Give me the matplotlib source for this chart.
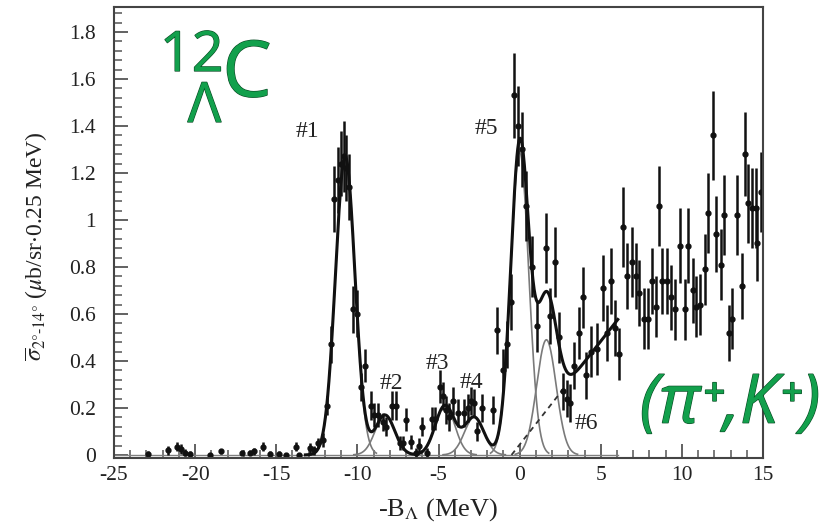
import numpy as np
import matplotlib
matplotlib.use("Agg")
import matplotlib.pyplot as plt
from matplotlib.ticker import MultipleLocator, FuncFormatter
import matplotlib.patheffects as pe

plt.rcParams['font.family'] = ['Liberation Serif', 'DejaVu Serif']
plt.rcParams['mathtext.fontset'] = 'stix'
plt.rcParams['axes.unicode_minus'] = False

# measured points: -B_Lambda (MeV), cross section, error
bx = [-22.9, -21.7, -21.1, -20.9, -20.6, -20.3, -19.1, -18.4, -17.1, -16.6, -16.4,
      -15.8, -15.4, -14.8, -14.4, -13.8, -13.6, -12.9, -12.7, -12.4, -12.1, -11.9,
      -11.65, -11.45, -11.2, -11.0, -10.85, -10.7, -10.5, -10.3, -10.05, -9.75, -9.5,
      -9.15, -8.95, -8.7, -8.45, -8.25, -7.85, -7.6, -7.4, -7.2, -7.0, -6.7, -6.4,
      -6.2, -6.0, -5.7, -5.4, -5.2, -4.9, -4.7, -4.55, -4.35, -4.1, -3.8, -3.4, -3.2,
      -3.0, -2.8, -2.6, -2.3, -1.65, -1.4, -1.05, -0.8, -0.55, -0.35, -0.1, 0.15, 0.4,
      0.75, 1.05, 1.65, 1.85, 2.15, 2.4, 2.65, 2.9, 3.1, 3.35, 3.65, 3.9, 4.1, 4.4,
      4.75, 5.15, 5.4, 5.65, 5.9, 6.15, 6.35, 6.6, 6.9, 7.15, 7.35, 7.65, 7.9, 8.15,
      8.4, 8.6, 8.8, 9.1, 9.35, 9.6, 9.9, 10.2, 10.4, 10.7, 10.9, 11.1, 11.4, 11.6,
      11.9, 12.1, 12.4, 12.6, 12.9, 13.1, 13.4, 13.7, 13.9, 14.1, 14.35, 14.55, 14.65,
      14.9]
sig = [0.005, 0.02, 0.035, 0.025, 0.01, 0.005, 0.0, 0.015, 0.01, 0.01, 0.015,
       0.035, 0.005, 0.005, 0.0, 0.035, 0.0, 0.03, 0.02, 0.05, 0.065, 0.21,
       0.47, 1.09, 1.17, 1.24, 1.27, 1.22, 1.14, 0.62, 0.60, 0.29, 0.38,
       0.21, 0.17, 0.17, 0.14, 0.12, 0.21, 0.21, 0.05, 0.05, 0.15, 0.055, 0.01,
       0.04, 0.12, 0.01, 0.155, 0.155, 0.29, 0.25, 0.19, 0.16, 0.23, 0.18, 0.18, 0.2,
       0.23, 0.22, 0.10, 0.20, 0.19, 0.53, 0.36, 0.47, 0.65, 1.53, 1.40, 1.30, 1.06,
       0.80, 0.55, 0.88, 0.59, 0.82, 0.50, 0.27, 0.24, 0.22, 0.38, 0.52, 0.67, 0.34, 0.44,
       0.45, 0.71, 0.52, 0.74, 0.54, 0.43, 0.97, 0.76, 0.82, 0.76, 0.69, 0.58, 0.58, 0.74,
       0.63, 1.06, 0.74, 0.74, 0.67, 0.62, 0.89, 0.62, 0.89, 0.70, 0.63, 0.64, 0.79, 1.03,
       1.36, 0.94, 0.81, 1.02, 0.52, 0.58, 1.02, 0.72, 1.28, 1.07, 1.05, 1.05, 0.90,
       1.12]
err = [0.01, 0.02, 0.02, 0.02, 0.015, 0.01, 0.01, 0.01, 0.01, 0.01, 0.015,
       0.02, 0.01, 0.01, 0.01, 0.02, 0.01, 0.02, 0.02, 0.02, 0.03, 0.04,
       0.08, 0.14, 0.14, 0.14, 0.15, 0.14, 0.14, 0.10, 0.10, 0.06, 0.07,
       0.06, 0.05, 0.05, 0.04, 0.04, 0.06, 0.06, 0.03, 0.03, 0.05, 0.03, 0.02,
       0.03, 0.04, 0.02, 0.05, 0.05, 0.07, 0.06, 0.06, 0.06, 0.06, 0.06, 0.06, 0.06,
       0.06, 0.06, 0.04, 0.06, 0.06, 0.10, 0.09, 0.10, 0.12, 0.18, 0.17, 0.16, 0.15,
       0.13, 0.11, 0.15, 0.12, 0.15, 0.11, 0.08, 0.08, 0.08, 0.10, 0.11, 0.13, 0.10, 0.11,
       0.11, 0.14, 0.12, 0.14, 0.12, 0.11, 0.17, 0.14, 0.15, 0.14, 0.14, 0.13, 0.13, 0.14,
       0.13, 0.17, 0.14, 0.14, 0.14, 0.13, 0.16, 0.13, 0.16, 0.14, 0.13, 0.13, 0.15, 0.17,
       0.19, 0.16, 0.15, 0.17, 0.12, 0.13, 0.17, 0.14, 0.18, 0.17, 0.17, 0.17, 0.16,
       0.17]

# fitted peaks #1..#6 (center, height, width) and linear background
pk_names = ['#1', '#2', '#3', '#4', '#5', '#6']
pk_center = [-10.75, -8.3, -4.6, -2.8, 0.0, 1.65]
pk_height = [1.27, 0.17, 0.21, 0.16, 1.29, 0.49]
pk_width = [0.6, 0.6, 0.6, 0.6, 0.56, 0.6]
bg_start, bg_slope = -0.5, 0.088
fit_range = (-13.2, 6.05)

lbl_x = [-13.1, -7.9, -5.05, -2.95, -2.05, 4.1]
lbl_y = [1.377, 0.305, 0.39, 0.31, 1.39, 0.135]


def gauss(x, c, h, w):
    return h*np.exp(-(x-c)**2/(2*w**2))


def background(x):
    return np.clip(bg_slope*(x-bg_start), 0, None)


fig = plt.figure(figsize=(8.34, 5.22), dpi=100)
ax = fig.add_axes([114/834, 1-458/522, 649/834, 451/522])

# baseline
ax.plot([-25, 6.05], [0, 0], color='#808080', lw=1.0)

for c, h, w in zip(pk_center, pk_height, pk_width):
    xs = np.linspace(c-3.2*w, c+3.2*w, 200)
    ax.plot(xs, gauss(xs, c, h, w), color='#7a7a7a', lw=1.2)

xb = np.linspace(bg_start, 2.7, 50)
ax.plot(xb, background(xb), color='#333333', lw=1.3, ls=(0, (3, 2.5)))

xf = np.linspace(fit_range[0], fit_range[1], 800)
yf = background(xf)
for c, h, w in zip(pk_center, pk_height, pk_width):
    yf = yf + gauss(xf, c, h, w)
ax.plot(xf, yf, color='#111111', lw=2.2)

ax.errorbar(bx, sig, yerr=err, fmt='o', ms=3.5, color='#111111',
            ecolor='#111111', elinewidth=1.8, capsize=0)

for name, x, y in zip(pk_names, lbl_x, lbl_y):
    ax.text(x, y, name, fontsize=17, ha='center', va='center', color='#222222')

ax.set_xlim(-25, 15)
ax.set_ylim(-0.013, 1.906)
ax.xaxis.set_major_locator(MultipleLocator(5))
ax.xaxis.set_minor_locator(MultipleLocator(1))
ax.yaxis.set_major_locator(MultipleLocator(0.2))
ax.yaxis.set_minor_locator(MultipleLocator(0.04))
ax.yaxis.set_major_formatter(FuncFormatter(lambda v, p: '%g' % round(v, 2)))
ax.tick_params(which='both', direction='in', top=False, right=False,
               color='#555555', labelsize=15.5, labelcolor='#222222')
ax.tick_params(which='major', length=10, width=1.3)
ax.tick_params(which='minor', length=5.5, width=1.1)
ax.tick_params(axis='y', pad=13)
ax.tick_params(axis='x', pad=6)
for s in ax.spines.values():
    s.set_color('#444444')
    s.set_linewidth(1.5)

ax.set_xlabel(r'-B$_{\Lambda}$ (MeV)', fontsize=19, color='#222222', labelpad=8)
ax.set_ylabel(r'$\overline{\sigma}_{2°\text{-}14°}$ ($\mu$b/sr$\cdot$0.25 MeV)',
              fontsize=17, color='#222222')
ax.yaxis.set_label_coords(-0.1, 0.47)

green = '#12a04c'
fx = [pe.withStroke(linewidth=0.9, foreground='#0b4d26')]
gfam = ['Open Sans', 'DejaVu Sans']
# mass number stacked over the Lambda, as one text block
fig.text(160/834, 1-28/522, '12\n\u2009\u2009\u2009Λ', fontsize=40, color=green,
         ha='left', va='top', multialignment='left', linespacing=0.86,
         family=gfam, path_effects=fx)
fig.text(247/834, 1-76/522, 'C', fontsize=56, color=green, ha='center', va='center',
         family=gfam, path_effects=fx)
fig.text(730/834, 1-405/522, '(π⁺,K⁺)', fontsize=49, color=green, ha='center',
         va='center', style='italic', family=gfam, path_effects=fx)

fig.savefig('out.png', dpi=100)
